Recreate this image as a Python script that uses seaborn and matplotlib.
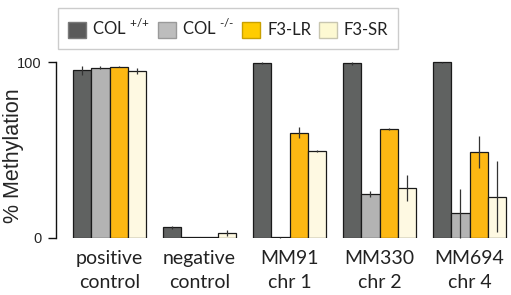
import matplotlib
matplotlib.use("Agg")
import matplotlib.pyplot as plt
from matplotlib.patches import Patch
import seaborn as sns
import pandas as pd
import numpy as np

groups = ["positive\ncontrol", "negative\ncontrol", "MM91\nchr 1", "MM330\nchr 2", "MM694\nchr 4"]
genotypes = ["COL+/+", "COL-/-", "F3-LR", "F3-SR"]
legend_labels = [r"COL $^{\mathregular{\text{+/+}}}$", r"COL $^{\mathregular{\text{-/-}}}$", "F3-LR", "F3-SR"]

col_wt = [95.5, 6.0, 99.5, 99.5, 100.0]
col_wt_err = [2.5, 0.8, 0.5, 0.8, 0.5]
col_ko = [97.0, 0.4, 0.3, 25.0, 14.0]
col_ko_err = [1.0, 0.2, 0.2, 1.6, 14.0]
f3_lr = [97.5, 0.4, 60.0, 61.8, 49.0]
f3_lr_err = [0.4, 0.2, 2.9, 0.6, 9.0]
f3_sr = [95.2, 2.8, 49.4, 28.5, 23.5]
f3_sr_err = [1.6, 1.6, 0.5, 7.5, 20.0]

bar_colors = ["#606261", "#b3b3b3", "#fdb813", "#fef9e2"]
leg_colors = ["#5a5a5a", "#bdbdbd", "#ffcc00", "#fdf9d2"]
leg_edges = ["#7a7a7a", "#9a9a9a", "#c9a000", "#c8c6b0"]

vals = [col_wt, col_ko, f3_lr, f3_sr]
errs = [col_wt_err, col_ko_err, f3_lr_err, f3_sr_err]
rows = []
for g, v, e in zip(genotypes, vals, errs):
    for grp, vv, ee in zip(groups, v, e):
        rows.append({"group": grp, "genotype": g, "value": vv, "err": ee})
df = pd.DataFrame(rows)

sns.set_style("white")
plt.rcParams["mathtext.fontset"] = "custom"
plt.rcParams["mathtext.rm"] = "Lato"
fig = plt.figure(figsize=(5.11, 2.95), dpi=100)
y0, y100 = 237.7, 62.4
ppu = (y0 - y100) / 100.0
ytop = y0 - 102 * ppu
ax = fig.add_axes([56/511, (295-y0)/295, (510-56)/511, (y0-ytop)/295])

sns.barplot(data=df, x="group", y="value", hue="genotype", order=groups,
            hue_order=genotypes, palette=bar_colors, errorbar=None, width=0.81,
            gap=0, edgecolor="#1a1a1a", linewidth=0.9, saturation=1, ax=ax,
            legend=False)

for cont, g in zip(ax.containers, genotypes):
    sub = df[df.genotype == g].set_index("group").loc[groups]
    xs = [p.get_x() + p.get_width()/2 for p in cont.patches]
    ax.errorbar(xs, sub["value"].values, yerr=sub["err"].values, fmt="none",
                ecolor="#333333", elinewidth=0.9, capsize=0, clip_on=False, zorder=5)

ax.set_xlim(-(109.5-56)/90, 4 + (510-469.5)/90)
ax.set_ylim(0, 102)
ax.set_yticks([0, 100])
ax.set_yticklabels(["0", "100"], fontsize=10.5, family="Liberation Sans")
ax.set_ylabel("% Methylation", fontsize=15.5, family="Liberation Sans")
ax.yaxis.set_label_coords((24-56)/454, (y0-156)/(y0-ytop))
ax.set_xlabel("")
for s in ["top", "right", "bottom"]:
    ax.spines[s].set_visible(False)
ax.spines["left"].set_bounds(0, 100)
ax.spines["left"].set_color("#111111")
ax.spines["left"].set_linewidth(1.0)
ax.tick_params(axis="y", left=True, length=6, width=1.0, color="#111111", pad=4.3)
ax.tick_params(axis="x", bottom=False, pad=5)
for t in ax.get_xticklabels():
    t.set_family("Lato")
    t.set_fontsize(14)
    t.set_color("#222222")
    t.set_linespacing(1.55)

handles = [Patch(facecolor=c, edgecolor=ec, linewidth=1) for c, ec in zip(leg_colors, leg_edges)]
leg = fig.legend(handles, legend_labels, loc="upper left",
                 bbox_to_anchor=(57.5/511, 1 - 8/295), ncol=4, frameon=True,
                 fancybox=False, edgecolor="#c0c0c0", handlelength=1.08, handleheight=1.08,
                 handletextpad=0.4, columnspacing=0.45, borderpad=0.62, borderaxespad=0,
                 prop={"family": "Lato", "size": 12})
leg.get_frame().set_linewidth(1.0)
for t in leg.get_texts():
    t.set_color("#222222")

fig.savefig("out.png", dpi=100)
